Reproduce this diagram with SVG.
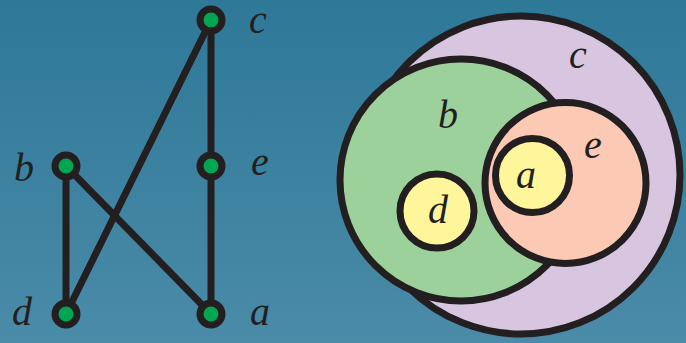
<svg xmlns="http://www.w3.org/2000/svg" width="686" height="343" viewBox="0 0 686 343">
<defs>
<linearGradient id="bg" x1="0" y1="0" x2="0" y2="1">
<stop offset="0" stop-color="#2e7898"/>
<stop offset="1" stop-color="#4a8ba8"/>
</linearGradient>
</defs>
<style>
.edge{stroke:#231f20;stroke-width:7;stroke-linecap:round}
.node{fill:#00a651;stroke:#231f20;stroke-width:7}
.set{stroke:#231f20;stroke-width:7}
.lbl{font-family:"Liberation Serif",serif;font-style:italic;font-size:40px;fill:#231f20}
</style>
<rect width="686" height="343" fill="url(#bg)"/>
<g id="connectors">
<line class="edge" x1="211" y1="20" x2="211" y2="166"/>
<line class="edge" x1="211" y1="166" x2="211" y2="314"/>
<line class="edge" x1="211" y1="20" x2="66" y2="314"/>
<line class="edge" x1="66" y1="166" x2="66" y2="314"/>
<line class="edge" x1="66" y1="166" x2="211" y2="314"/>
</g>
<g id="node-c"><circle class="node" cx="211" cy="20" r="11"/><text class="lbl" x="249" y="33">c</text></g>
<g id="node-e"><circle class="node" cx="211" cy="166" r="11"/><text class="lbl" x="251" y="175">e</text></g>
<g id="node-b"><circle class="node" cx="66" cy="166" r="11"/><text class="lbl" x="14" y="181">b</text></g>
<g id="node-d"><circle class="node" cx="66" cy="314" r="11"/><text class="lbl" x="12" y="325">d</text></g>
<g id="node-a"><circle class="node" cx="211" cy="314" r="11"/><text class="lbl" x="250" y="325">a</text></g>
<g id="set-c"><circle class="set" cx="521" cy="175" r="159" fill="#d8c6e0"/><text class="lbl" x="569" y="68">c</text></g>
<g id="set-b"><circle class="set" cx="461" cy="180" r="121" fill="#9dd19c"/><text class="lbl" x="438" y="128">b</text></g>
<g id="set-e"><circle class="set" cx="565.5" cy="183" r="80.5" fill="#fbc9b4"/><text class="lbl" x="584" y="158">e</text></g>
<g id="set-a"><circle class="set" cx="532.5" cy="175.5" r="37" fill="#fff59a"/><text class="lbl" x="516" y="188">a</text></g>
<g id="set-d"><circle class="set" cx="437" cy="211" r="37" fill="#fff59a"/><text class="lbl" x="428" y="223">d</text></g>
</svg>
